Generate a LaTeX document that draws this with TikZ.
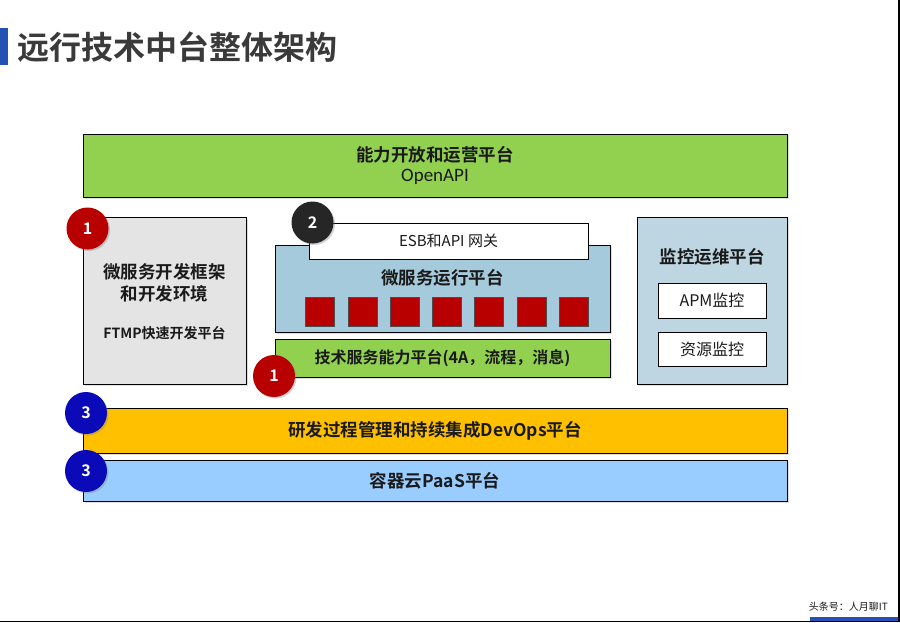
\documentclass[tikz,border=0pt]{standalone}
\usepackage{fontspec}
\setmainfont{Noto Sans CJK SC}[BoldFont={Noto Sans CJK SC Bold}]
\newfontfamily\latinc{Carlito}
\usetikzlibrary{shadows}
\definecolor{ttl}{HTML}{3A3A3A}
\definecolor{tblue}{HTML}{2352B4}
\definecolor{gr}{HTML}{92D050}
\definecolor{lgray}{HTML}{E4E4E4}
\definecolor{midblue}{HTML}{A5CADB}
\definecolor{rblue}{HTML}{BDD6E2}
\definecolor{orng}{HTML}{FFC000}
\definecolor{skyb}{HTML}{99CCFF}
\definecolor{dred}{HTML}{B80000}
\definecolor{dblk}{HTML}{262626}
\definecolor{dblue}{HTML}{0A0AB8}
\definecolor{txt}{HTML}{1A1A1A}
\tikzset{
  panel/.style={draw=black, line width=0.8pt, inner sep=0pt, text=txt,
    drop shadow={shadow xshift=1.5pt, shadow yshift=-1.5pt, opacity=0.25}},
  wbox/.style={draw=black, line width=1pt, fill=white, inner sep=0pt, text=txt},
  sq/.style={draw=black!70, line width=0.5pt, fill=dred, minimum width=29pt, minimum height=29pt, inner sep=0pt},
  badge/.style={circle, minimum size=42pt, inner sep=0pt, text=white, font=\bfseries\fontsize{16}{16}\selectfont,
    drop shadow={shadow xshift=1.5pt, shadow yshift=-1.5pt, opacity=0.35}},
  lbl/.style={text=txt, inner sep=0pt}
}
\begin{document}
\begin{tikzpicture}[x=1pt,y=-1pt]
\useasboundingbox (0,0) rectangle (900,623);
\fill[white] (0,0) rectangle (900,623);
% title
\fill[tblue] (0,28) rectangle (8,65);
\node[anchor=west, text=ttl, inner sep=0pt, font=\bfseries\fontsize{32}{32}\selectfont] (title) at (17,47) {远行技术中台整体架构};
% top green
\node[panel, fill=gr, minimum width=704pt, minimum height=63pt] (open) at (435,165.5) {};
\node[lbl, font=\bfseries\fontsize{17.5}{18}\selectfont] (openA) at (435,155) {能力开放和运营平台};
\node[lbl, font=\latinc\fontsize{19}{19}\selectfont] (openB) at (435,177) {OpenAPI};
% left gray
\node[panel, fill=lgray, minimum width=163pt, minimum height=167pt] (dev) at (164.5,300.5) {};
\node[lbl, align=center, font=\bfseries\fontsize{17.5}{22}\selectfont] (devA) at (164.5,283) {微服务开发框架\\和开发环境};
\node[lbl, font=\bfseries\fontsize{14}{14}\selectfont] (devB) at (164.5,333) {FTMP快速开发平台};
% middle blue
\node[panel, fill=midblue, minimum width=335pt, minimum height=87pt] (run) at (442.5,288.5) {};
\node[wbox, minimum width=279pt, minimum height=36pt, font=\fontsize{15}{15}\selectfont] (esb) at (448.5,241) {ESB和API 网关};
\node[lbl, font=\bfseries\fontsize{17.5}{18}\selectfont] (runA) at (442.5,278) {微服务运行平台};
\foreach \i in {0,...,6} {
  \node[sq] (s\i) at ({320+42.25*\i},311.5) {};
}
% tech green
\node[panel, fill=gr, minimum width=335pt, minimum height=38pt, font=\bfseries\fontsize{16}{16}\selectfont] (tech) at (442.5,358) {技术服务能力平台(4A，流程，消息)};
% right monitoring
\node[panel, fill=rblue, minimum width=150pt, minimum height=167pt] (mon) at (712,300.5) {};
\node[lbl, font=\bfseries\fontsize{17.5}{18}\selectfont] (monA) at (712,257) {监控运维平台};
\node[wbox, minimum width=108pt, minimum height=35pt, font=\fontsize{16}{16}\selectfont] (apm) at (712,300.5) {APM监控};
\node[wbox, minimum width=108pt, minimum height=34pt, font=\fontsize{16}{16}\selectfont] (res) at (712,349) {资源监控};
% orange & blue bars
\node[panel, fill=orng, minimum width=704pt, minimum height=45pt, font=\bfseries\fontsize{17.5}{18}\selectfont] (devops) at (435,430.5) {研发过程管理和持续集成DevOps平台};
\node[panel, fill=skyb, minimum width=704pt, minimum height=41pt, font=\bfseries\fontsize{17.5}{18}\selectfont] (paas) at (435,480.5) {容器云PaaS平台};
% badges
\node[badge, fill=dred] (b1) at (87.5,228.5) {1};
\node[badge, fill=dblk] (b2) at (312.5,222.5) {2};
\node[badge, fill=dred] (b1b) at (274,376) {1};
\node[badge, fill=dblue] (b3a) at (86,413) {3};
\node[badge, fill=dblue] (b3b) at (86,471) {3};
% footer
\node[anchor=east, lbl, font=\fontsize{10}{10}\selectfont] (foot) at (888,607) {头条号：人月聊IT};
\fill[tblue] (810,616.5) rectangle (898,620.5);
\draw[black, line width=1.5pt] (0,621.5) -- (900,621.5);
\draw[black, line width=1.5pt] (898.8,0) -- (898.8,621.5);
\end{tikzpicture}
\end{document}
